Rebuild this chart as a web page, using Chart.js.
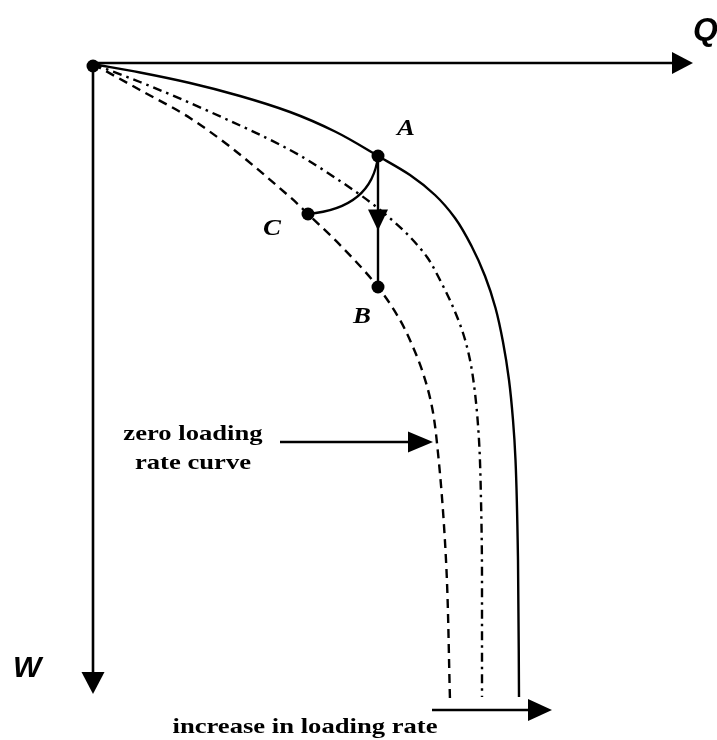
<!DOCTYPE html>
<html><head><meta charset="utf-8">
<script src="https://cdn.jsdelivr.net/npm/chart.js@4"></script>
<style>html,body{margin:0;padding:0;background:#fff}canvas{display:block}</style>
</head><body>
<canvas id="c" width="717" height="740"></canvas>
<script>
// ---- data (arbitrary units: Q along the horizontal axis, W downward) ----
const solidQ   = [0, 0.94, 1.94, 2.94, 3.94, 4.84, 5.70, 6.34, 6.84, 7.24, 7.57, 7.84, 8.05, 8.20, 8.32, 8.40, 8.45, 8.50, 8.52];
const solidW   = [0, 0.17, 0.38, 0.64, 0.96, 1.35, 1.84, 2.22, 2.62, 3.08, 3.64, 4.24, 4.88, 5.56, 6.32, 7.12, 7.92, 9.92, 12.66];
const dashDotQ = [0, 0.94, 1.94, 3.94, 5.00, 5.54, 5.98, 6.34, 6.68, 6.94, 7.20, 7.40, 7.54, 7.64, 7.72, 7.76, 7.78, 7.78];
const dashDotW = [0, 0.36, 0.78, 1.72, 2.38, 2.76, 3.12, 3.46, 3.86, 4.32, 4.86, 5.38, 5.92, 6.58, 7.52, 8.72, 10.32, 12.66];
const dashedQ  = [0, 0.94, 1.94, 3.94, 4.30, 5.00, 5.70, 6.14, 6.40, 6.60, 6.78, 6.90, 7.06, 7.14];
const dashedW  = [0, 0.52, 1.08, 2.66, 3.00, 3.68, 4.46, 5.12, 5.66, 6.18, 6.86, 7.78, 9.92, 12.72];
const pointNames = ['O', 'A', 'B', 'C'];
const pointQ = [0, 5.70, 5.70, 4.30];
const pointW = [0.04, 1.84, 4.46, 3.00];
const arcQ = [5.70, 5.58, 4.30];   // A, control, C
const arcW = [1.84, 2.88, 3.00];
const axisMaxQ = 12.0;
const axisMaxW = 12.6;
const zeroArrowQ = [3.74, 6.80], zeroArrowW = [7.56, 7.56];
const rateArrowQ = [6.78, 9.18], rateArrowW = [12.92, 12.92];

const zip = (a, b) => a.map((v, i) => ({x: v, y: b[i]}));

const labels = [
  {t: 'Q', q: 12.0, w: -0.48, font: 'italic bold 32px "Liberation Sans", Arial', align: 'left', sx: 1},
  {t: 'W', q: -1.6, w: 12.26, font: 'italic bold 30px "Liberation Sans", Arial', align: 'left', sx: 1},
  {t: 'A', q: 6.08, w: 1.42, font: 'italic bold 24px "Liberation Serif", serif', align: 'left', sx: 1.12},
  {t: 'C', q: 3.40, w: 3.42, font: 'italic bold 24px "Liberation Serif", serif', align: 'left', sx: 1.12},
  {t: 'B', q: 5.20, w: 5.18, font: 'italic bold 24px "Liberation Serif", serif', align: 'left', sx: 1.12},
  {t: 'zero loading', q: 2.0, w: 7.52, font: 'bold 22px "Liberation Serif", serif', align: 'center', sx: 1.21},
  {t: 'rate curve', q: 2.0, w: 8.10, font: 'bold 22px "Liberation Serif", serif', align: 'center', sx: 1.21},
  {t: 'increase in loading rate', q: 4.24, w: 13.38, font: 'bold 22px "Liberation Serif", serif', align: 'center', sx: 1.21}
];

function head(ctx, x, y, dx, dy, len, half) {
  const px = -dy, py = dx;
  ctx.beginPath();
  ctx.moveTo(x, y);
  ctx.lineTo(x - dx * len + px * half, y - dy * len + py * half);
  ctx.lineTo(x - dx * len - px * half, y - dy * len - py * half);
  ctx.closePath();
  ctx.fill();
}

const overlay = {
  id: 'overlay',
  afterDatasetsDraw(chart) {
    const ctx = chart.ctx, xs = chart.scales.x, ys = chart.scales.y;
    const X = v => xs.getPixelForValue(v), Y = v => ys.getPixelForValue(v);
    ctx.save();
    ctx.strokeStyle = '#000'; ctx.fillStyle = '#000'; ctx.lineCap = 'butt';
    // axes
    ctx.lineWidth = 2.6;
    const ox = X(0), oy = Y(0);
    ctx.beginPath(); ctx.moveTo(ox, oy - 1); ctx.lineTo(X(axisMaxQ) - 15, oy - 1); ctx.stroke();
    head(ctx, X(axisMaxQ), oy - 1, 1, 0, 21, 11);
    ctx.beginPath(); ctx.moveTo(ox, oy); ctx.lineTo(ox, Y(axisMaxW) - 15); ctx.stroke();
    head(ctx, ox, Y(axisMaxW), 0, 1, 22, 11.5);
    // arc A -> C
    ctx.lineWidth = 2.2;
    ctx.beginPath();
    ctx.moveTo(X(arcQ[0]), Y(arcW[0]));
    ctx.quadraticCurveTo(X(arcQ[1]), Y(arcW[1]), X(arcQ[2]), Y(arcW[2]));
    ctx.stroke();
    // arrow A -> B
    const ax = X(pointQ[1]), ay = Y(pointW[1]), by = Y(pointW[2]);
    ctx.lineWidth = 2.4;
    ctx.beginPath(); ctx.moveTo(ax, ay); ctx.lineTo(ax, by); ctx.stroke();
    head(ctx, ax, (ay + by) / 2 + 9, 0, 1, 21, 10);
    // zero loading arrow
    ctx.beginPath(); ctx.moveTo(X(zeroArrowQ[0]), Y(zeroArrowW[0])); ctx.lineTo(X(zeroArrowQ[1]) - 15, Y(zeroArrowW[1])); ctx.stroke();
    head(ctx, X(zeroArrowQ[1]), Y(zeroArrowW[1]), 1, 0, 25, 10.5);
    // loading rate arrow
    ctx.beginPath(); ctx.moveTo(X(rateArrowQ[0]), Y(rateArrowW[0])); ctx.lineTo(X(rateArrowQ[1]) - 15, Y(rateArrowW[1])); ctx.stroke();
    head(ctx, X(rateArrowQ[1]), Y(rateArrowW[1]), 1, 0, 24, 11);
    // texts
    ctx.textBaseline = 'alphabetic';
    labels.forEach(l => {
      ctx.save();
      ctx.font = l.font; ctx.textAlign = l.align;
      ctx.translate(X(l.q), Y(l.w)); ctx.scale(l.sx, 1);
      ctx.fillText(l.t, 0, 0);
      ctx.restore();
    });
    ctx.restore();
  }
};

const curveStyle = {showLine: true, borderColor: '#000', borderWidth: 2.4, pointRadius: 0,
  cubicInterpolationMode: 'monotone', indexAxis: 'y', clip: false, fill: false};

new Chart(document.getElementById('c'), {
  type: 'scatter',
  data: {
    datasets: [
      Object.assign({label: 'high loading rate', data: zip(solidQ, solidW)}, curveStyle),
      Object.assign({label: 'intermediate loading rate', data: zip(dashDotQ, dashDotW), borderDash: [9, 5, 2.5, 5]}, curveStyle),
      Object.assign({label: 'zero loading rate curve', data: zip(dashedQ, dashedW), borderDash: [9, 6]}, curveStyle),
      {label: 'points', data: zip(pointQ, pointW), showLine: false, pointRadius: 6.5, pointBackgroundColor: '#000', pointBorderWidth: 0, clip: false}
    ]
  },
  options: {
    responsive: false, animation: false, devicePixelRatio: 1,
    layout: {padding: {left: 93, right: 24, top: 64, bottom: 36}},
    scales: {
      x: {type: 'linear', min: 0, max: axisMaxQ, display: false},
      y: {type: 'linear', min: 0, max: 12.8, reverse: true, display: false}
    },
    plugins: {legend: {display: false}, tooltip: {enabled: false}}
  },
  plugins: [overlay]
});
</script>
</body></html>
